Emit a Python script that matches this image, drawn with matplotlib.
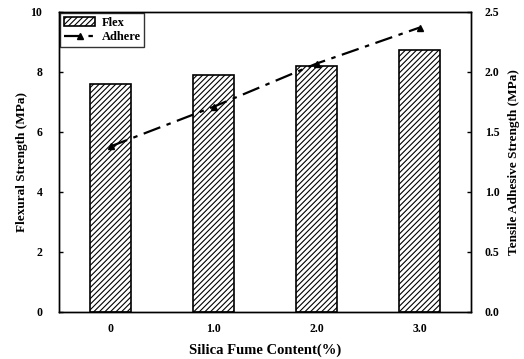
import matplotlib
matplotlib.use("Agg")
import matplotlib.pyplot as plt
import numpy as np

categories = ["0", "1.0", "2.0", "3.0"]
flex = [7.6, 7.9, 8.2, 8.75]
adhere = [1.38, 1.71, 2.07, 2.37]
left_ticks = [0, 2, 4, 6, 8, 10]
right_ticks = [0.0, 0.5, 1.0, 1.5, 2.0, 2.5]

plt.rcParams['font.family'] = ['Liberation Serif', 'DejaVu Serif']
plt.rcParams['font.weight'] = 'bold'
plt.rcParams['hatch.linewidth'] = 0.8

fig = plt.figure(figsize=(5.24, 3.59), dpi=100)
ax = fig.add_axes([59/524, 1-312/359, 412/524, 300/359])
x = np.arange(len(categories))
bars = ax.bar(x, flex, width=0.4, facecolor='white', edgecolor='black', hatch='//////', linewidth=1.2, label='Flex')
ax.set_xlim(-0.5, 3.5)
ax.set_ylim(0, 10)
ax.set_yticks(left_ticks)
ax.set_yticklabels([str(t) for t in left_ticks], fontsize=8.5, fontweight='bold')
ax.set_xticks(x)
ax.set_xticklabels(categories, fontsize=8.5, fontweight='bold')
ax.tick_params(direction='in', length=3, width=1)
ax.tick_params(axis='x', pad=8, length=0)
ax.tick_params(axis='y', pad=12)
ax.set_ylabel("Flexural Strength (MPa)", fontsize=9.5, fontweight='bold', labelpad=2)
ax.set_xlabel("Silica Fume Content(%)", fontsize=10.5, fontweight='bold', labelpad=6)

ax2 = ax.twinx()
line, = ax2.plot(x, adhere, color='black', linestyle=(0, (8, 3, 2, 3)), linewidth=1.6, marker='^', markersize=5, label='Adhere')
ax2.set_ylim(0, 2.5)
ax2.set_yticks(right_ticks)
ax2.set_yticklabels([f"{t:.1f}" for t in right_ticks], fontsize=8.5, fontweight='bold')
ax2.tick_params(direction='in', length=3, width=1, pad=10)
ax2.set_ylabel("Tensile Adhesive Strength (MPa)", fontsize=9.5, fontweight='bold', labelpad=6)

for a in (ax, ax2):
    for s in a.spines.values():
        s.set_linewidth(1.0)

leg = ax.legend([bars, line], ['Flex', 'Adhere'], loc='upper left', frameon=True, fancybox=False,
                edgecolor='black', fontsize=9, borderaxespad=0.1, handlelength=2.5,
                borderpad=0.3, labelspacing=0.2, handletextpad=0.5)
leg.get_frame().set_linewidth(1.0)

fig.savefig("out.png", dpi=100)
